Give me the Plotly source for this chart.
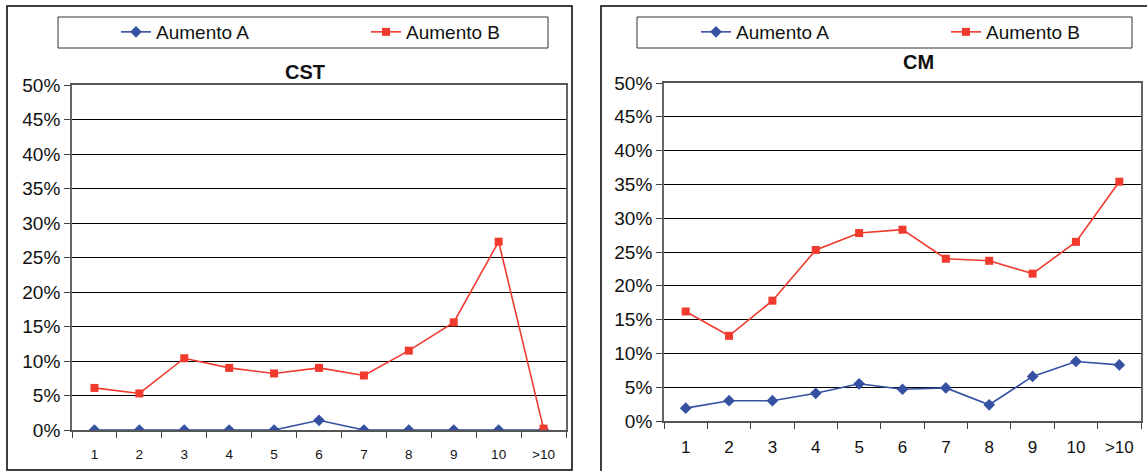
import plotly.graph_objects as go

# Category labels shared by both panels
categories = ["1", "2", "3", "4", "5", "6", "7", "8", "9", "10", ">10"]

# CST panel (fractions)
cst_aumento_a = [0.0, 0.0, 0.0, 0.0, 0.0, 0.014, 0.0, 0.0, 0.0, 0.0, 0.0]
cst_aumento_b = [0.061, 0.053, 0.104, 0.090, 0.082, 0.090, 0.079, 0.115, 0.156, 0.273, 0.002]

# CM panel (fractions)
cm_aumento_a = [0.019, 0.030, 0.030, 0.041, 0.055, 0.047, 0.049, 0.024, 0.066, 0.088, 0.083]
cm_aumento_b = [0.162, 0.126, 0.178, 0.253, 0.278, 0.283, 0.240, 0.237, 0.218, 0.265, 0.354]

series_names = ["Aumento A", "Aumento B"]
panel_titles = ["CST", "CM"]

W, H = 1147, 471
BLUE = "#3650A2"
RED = "#EF3A2D"
FONT = "Liberation Sans, Arial, sans-serif"


def px(x):
    return x / W


def py(y):
    return (H - y) / H


fig = go.Figure()

panels = [
    dict(a=cst_aumento_a, b=cst_aumento_b, xa="x", ya="y", legend="legend"),
    dict(a=cm_aumento_a, b=cm_aumento_b, xa="x2", ya="y2", legend="legend2"),
]

for p in panels:
    fig.add_trace(go.Scatter(
        x=categories, y=p["a"], name=series_names[0], mode="lines+markers",
        line=dict(color=BLUE, width=1.6),
        marker=dict(symbol="diamond", size=9, color=BLUE),
        xaxis=p["xa"], yaxis=p["ya"], legend=p["legend"], legendwidth=205,
        hoverinfo="skip",
    ))
    fig.add_trace(go.Scatter(
        x=categories, y=p["b"], name=series_names[1], mode="lines+markers",
        line=dict(color=RED, width=1.6),
        marker=dict(symbol="square", size=8, color=RED),
        xaxis=p["xa"], yaxis=p["ya"], legend=p["legend"], legendwidth=100,
        hoverinfo="skip",
    ))


def xaxis_style(domain, font_size, standoff):
    return dict(
        domain=domain, type="category", range=[-0.5, 10.5],
        tickson="boundaries", ticks="outside", ticklen=6, tickcolor="#404040",
        tickwidth=1.2, showgrid=False, showline=True, linecolor="#555555",
        linewidth=1.5, mirror=True, zeroline=False, fixedrange=True,
        automargin=False,
        tickfont=dict(family=FONT, size=font_size, color="#111111"),
        ticklabelstandoff=standoff,
    )


def yaxis_style(domain, anchor):
    return dict(
        domain=domain, anchor=anchor, range=[0, 0.5], dtick=0.05,
        tickformat=".0%", ticks="outside", ticklen=6, tickcolor="#404040",
        tickwidth=1.2, showgrid=True, gridcolor="#000000", gridwidth=1,
        showline=True, linecolor="#666666", linewidth=1.8, mirror=True,
        zeroline=False, fixedrange=True, automargin=False,
        tickfont=dict(family=FONT, size=19, color="#111111"),
    )


legend_common = dict(
    orientation="h", xanchor="left", yanchor="middle", y=py(32),
    bgcolor="rgba(0,0,0,0)", borderwidth=0,
    font=dict(family=FONT, size=19, color="#111111"),
)

fig.update_layout(
    width=W, height=H,
    margin=dict(l=0, r=0, t=0, b=0),
    paper_bgcolor="white", plot_bgcolor="white",
    font=dict(family=FONT, color="#111111"),
    xaxis=xaxis_style([px(72), px(566)], 13.5, 11) | dict(anchor="y"),
    yaxis=yaxis_style([py(430), py(85)], "x"),
    xaxis2=xaxis_style([px(664), px(1141)], 17, 10) | dict(anchor="y2"),
    yaxis2=yaxis_style([py(421), py(83)], "x2"),
    legend=legend_common | dict(x=px(116)),
    legend2=legend_common | dict(x=px(696)),
)

# Panel titles
fig.add_annotation(text="<b>CST</b>", x=px(305), y=py(72), xref="paper", yref="paper",
                   xanchor="center", yanchor="middle", showarrow=False,
                   font=dict(family=FONT, size=20, color="#111111"))
fig.add_annotation(text="<b>CM</b>", x=px(918), y=py(62), xref="paper", yref="paper",
                   xanchor="center", yanchor="middle", showarrow=False,
                   font=dict(family=FONT, size=20, color="#111111"))

# Outer chart frames
fig.add_shape(type="rect", xref="paper", yref="paper",
              x0=px(7), x1=px(572), y0=py(470), y1=py(6),
              line=dict(color="#000000", width=1.5))
fig.add_shape(type="rect", xref="paper", yref="paper",
              x0=px(601), x1=px(1152), y0=py(476), y1=py(6),
              line=dict(color="#000000", width=1.5))

# Legend boxes
fig.add_shape(type="rect", xref="paper", yref="paper",
              x0=px(58), x1=px(548), y0=py(48), y1=py(17),
              line=dict(color="#333333", width=1))
fig.add_shape(type="rect", xref="paper", yref="paper",
              x0=px(637), x1=px(1132), y0=py(48), y1=py(17),
              line=dict(color="#333333", width=1))

fig.write_html("out.html")
